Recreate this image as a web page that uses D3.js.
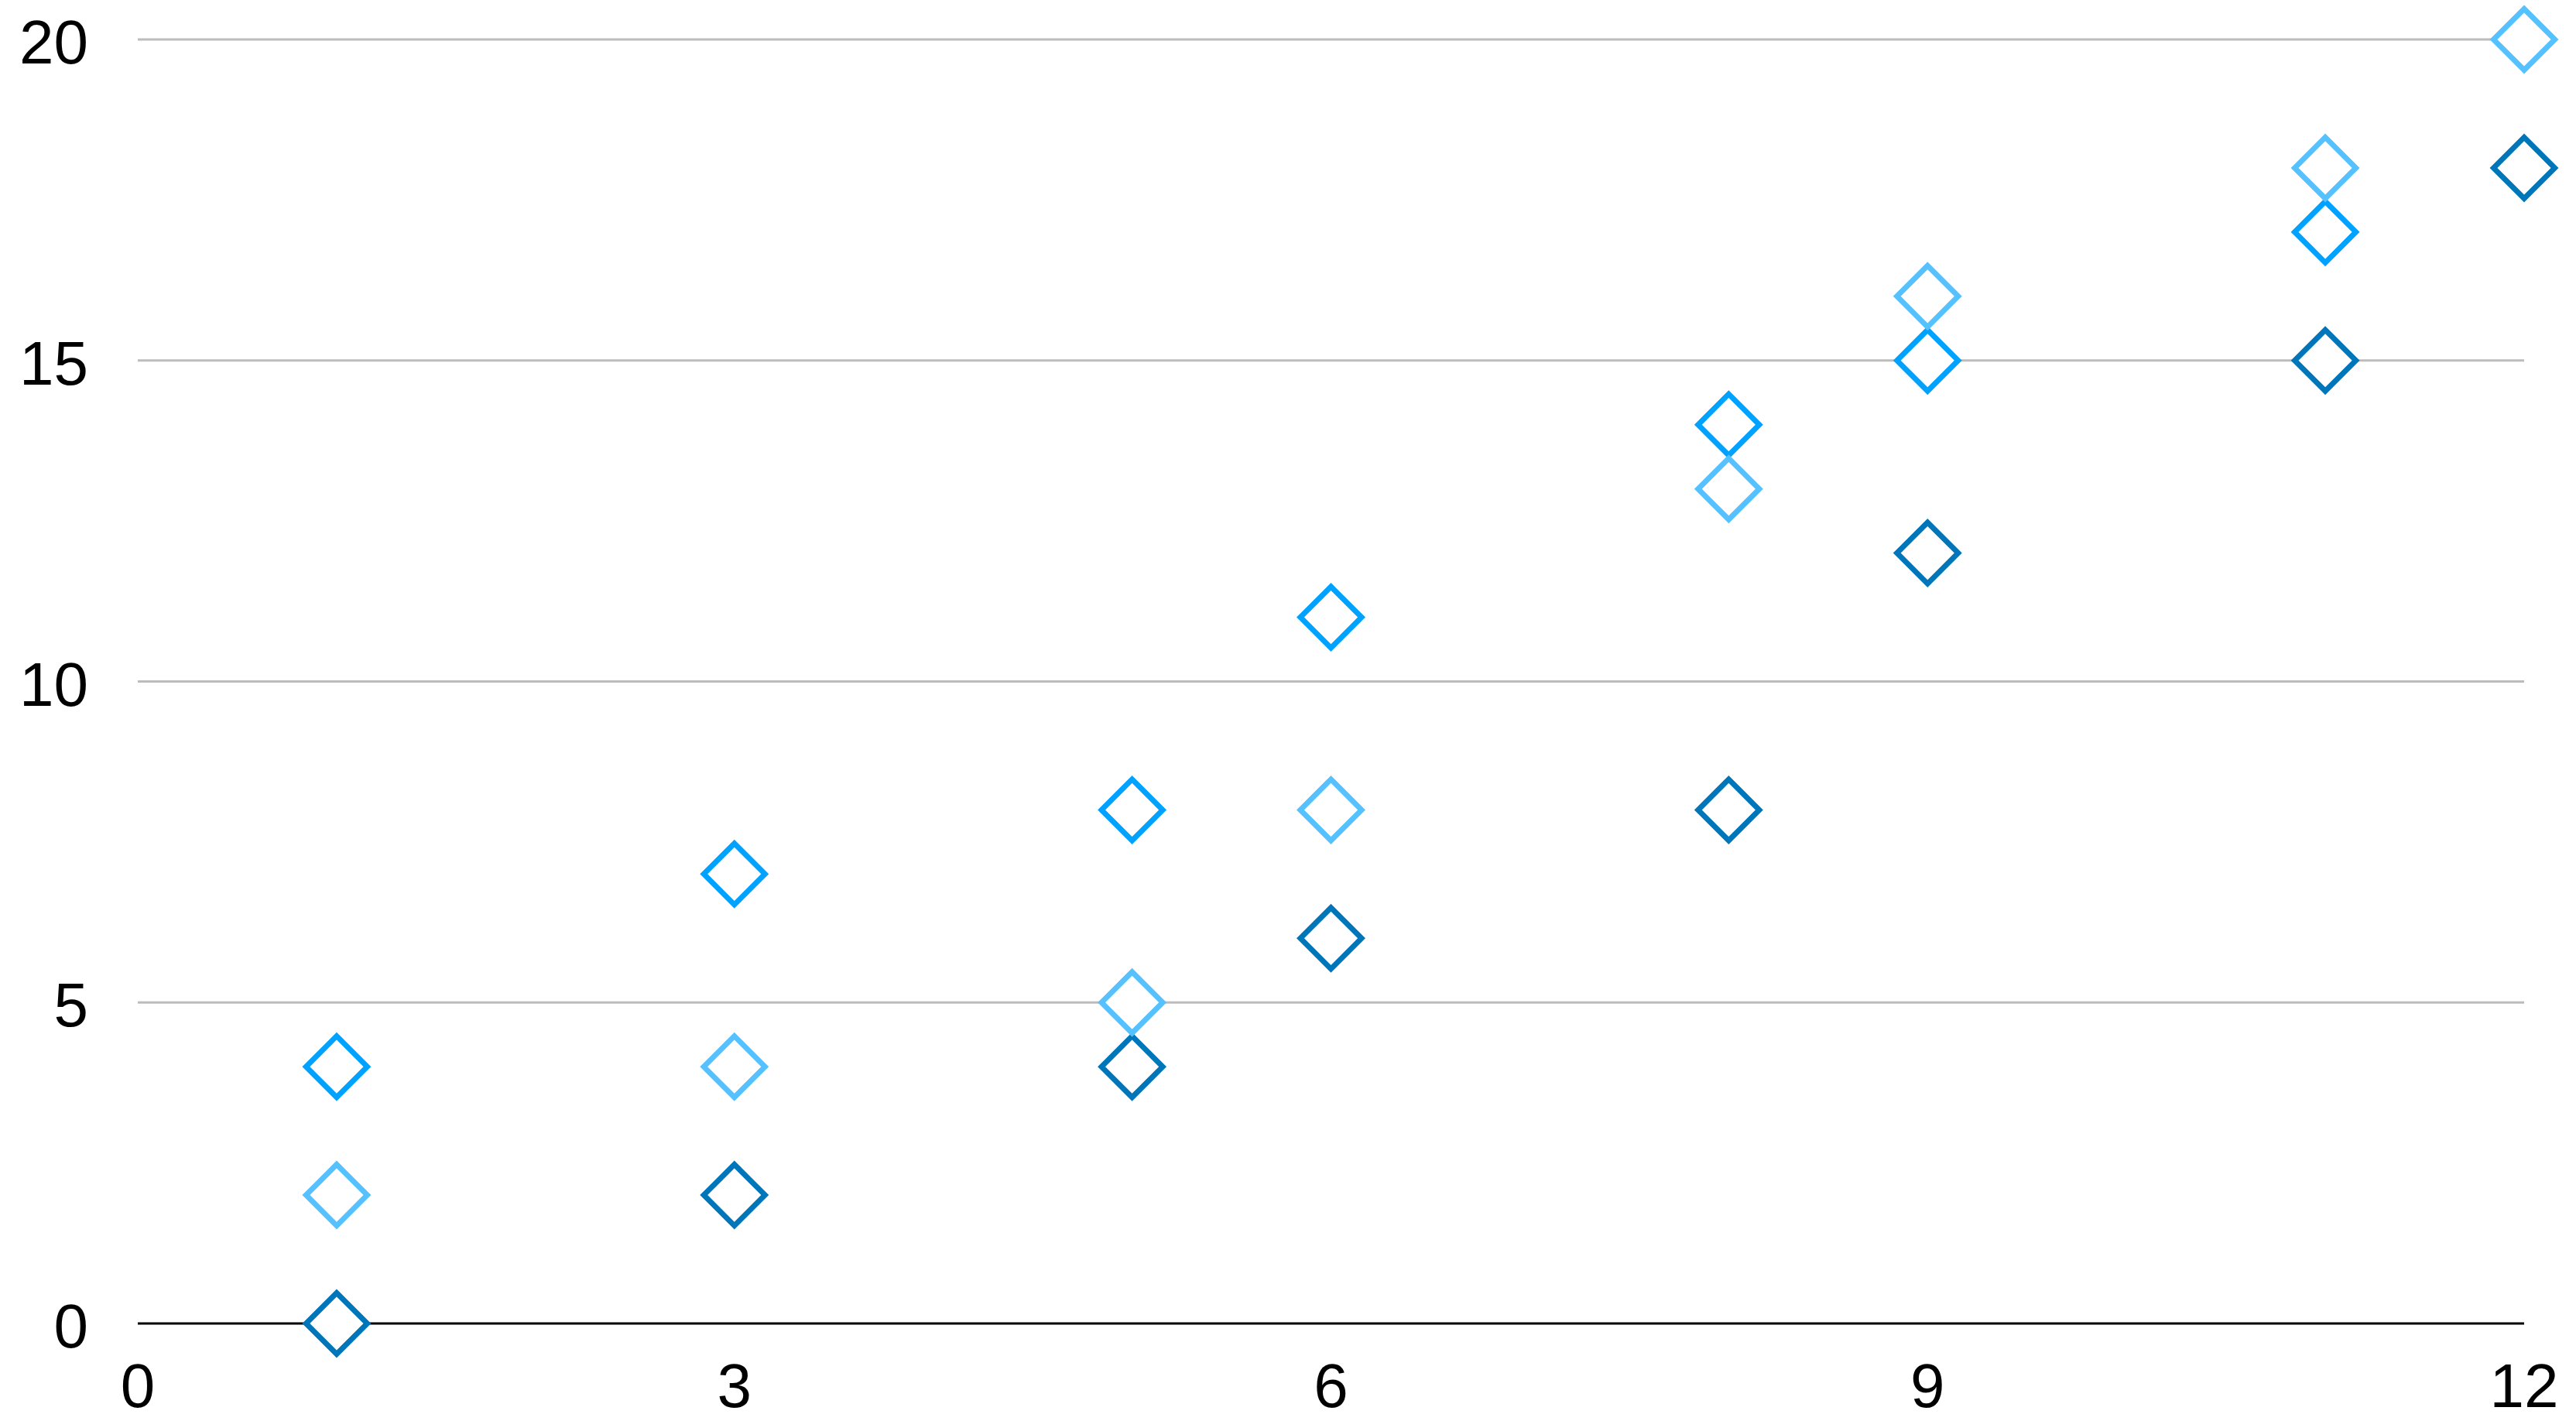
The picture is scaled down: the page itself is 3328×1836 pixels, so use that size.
<!DOCTYPE html>
<html>
<head>
<meta charset="utf-8">
<script src="https://cdn.jsdelivr.net/npm/d3@7"></script>
<style>
  html, body { margin: 0; padding: 0; background: #fff; }
  svg { display: block; }
</style>
</head>
<body>
<svg id="chart" width="3328" height="1836"></svg>
<script>
const xValues = [1, 3, 5, 6, 8, 9, 11, 12];
const seriesLight = [2, 4, 5, 8, 13, 16, 18, 20];
const seriesMid   = [4, 7, 8, 11, 14, 15, 17, null];
const seriesDark  = [0, 2, 4, 6, 8, 12, 15, 18];
const xTicks = [0, 3, 6, 9, 12];
const yTicks = [0, 5, 10, 15, 20];
const seriesNames = ["dark", "mid", "light"];
const seriesColors = ["#0076BA", "#00A2FF", "#56C1FF"];

const svg = d3.select("#chart");
const x = d3.scaleLinear().domain([0, 12]).range([178, 3261]);
const y = d3.scaleLinear().domain([0, 20]).range([1710, 51]);

const font = "'Liberation Sans', Arial, Helvetica, sans-serif";

// gridlines
svg.append("g").selectAll("line")
  .data(yTicks.filter(d => d !== 0))
  .join("line")
  .attr("x1", x(0)).attr("x2", x(12))
  .attr("y1", d => y(d)).attr("y2", d => y(d))
  .attr("stroke", "#bcbcbc").attr("stroke-width", 3);

// x axis baseline
svg.append("line")
  .attr("x1", x(0)).attr("x2", x(12))
  .attr("y1", y(0)).attr("y2", y(0))
  .attr("stroke", "#000").attr("stroke-width", 3);

// y tick labels
svg.append("g").selectAll("text")
  .data(yTicks)
  .join("text")
  .attr("x", 114)
  .attr("y", d => y(d) + 31)
  .attr("text-anchor", "end")
  .attr("font-family", font)
  .attr("font-size", 80)
  .attr("fill", "#000")
  .text(d => d);

// x tick labels
svg.append("g").selectAll("text")
  .data(xTicks)
  .join("text")
  .attr("x", d => x(d))
  .attr("y", 1818)
  .attr("text-anchor", "middle")
  .attr("font-family", font)
  .attr("font-size", 80)
  .attr("fill", "#000")
  .text(d => d);

// markers
const series = [seriesDark, seriesMid, seriesLight];
const symbol = d3.symbol().type(d3.symbolSquare).size(3125);
series.forEach((vals, i) => {
  const pts = xValues.map((xv, j) => ({ x: xv, y: vals[j] })).filter(p => p.y !== null);
  svg.append("g").attr("class", seriesNames[i]).selectAll("path")
    .data(pts)
    .join("path")
    .attr("d", symbol)
    .attr("transform", d => `translate(${x(d.x)},${y(d.y)}) rotate(45)`)
    .attr("fill", "#fff")
    .attr("stroke", seriesColors[i])
    .attr("stroke-width", 7);
});
</script>
</body>
</html>
